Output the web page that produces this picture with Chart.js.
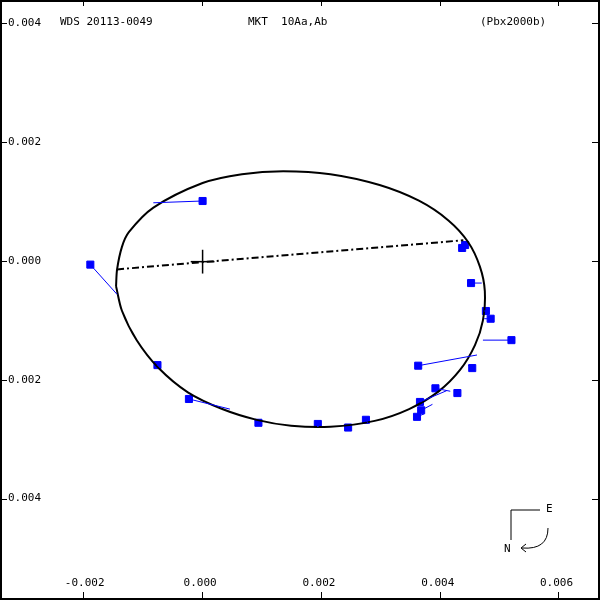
<!DOCTYPE html>
<html><head><meta charset="utf-8">
<script src="https://cdn.jsdelivr.net/npm/chart.js@4/dist/chart.umd.min.js"></script>
<style>
body{margin:0;background:#fff;}
#wrap{position:relative;width:600px;height:600px;}
#frame{position:absolute;left:0;top:0;width:596px;height:596px;border:2px solid #000;pointer-events:none;}
.t{position:absolute;font:11px "DejaVu Sans Mono",monospace;color:#000;white-space:pre;line-height:12px;}
.k{position:absolute;background:#000;}
</style></head><body>
<div id="wrap"><canvas id="c" width="600" height="600"></canvas>
<div id="frame"></div>
<div class="t" style="left:60px;top:16px">WDS 20113-0049</div>
<div class="t" style="left:248px;top:16px">MKT  10Aa,Ab</div>
<div class="t" style="left:480px;top:16px">(Pbx2000b)</div>
<div class="t" style="left:546px;top:503px">E</div>
<div class="t" style="left:504px;top:543px">N</div>
<svg style="position:absolute;left:0;top:0" width="600" height="600">
<path d="M540 510 H511 V540" fill="none" stroke="#000" stroke-width="1"/>
<path d="M548 528 Q548 550 522 548" fill="none" stroke="#000" stroke-width="1"/>
<path d="M526 544 L521 548 L526 552" fill="none" stroke="#000" stroke-width="1"/>
</svg>
</div>
<script>
const orbitX=[-0.001457,-0.001440,-0.001358,-0.001242,-0.000828,0,0.000662,0.001358,0.002152,0.002980,0.003642,0.004139,0.004470,0.004669,0.004752,0.004719,0.004586,0.004338,0.003974,0.003477,0.002897,0.002152,0.001490,0.000911,0.000331,-0.000248,-0.000745,-0.001109,-0.001358,-0.001457];
const orbitY=[-0.000413,-0.000132,0.000248,0.000496,0.000909,0.001322,0.001471,0.001521,0.001471,0.001289,0.001025,0.000694,0.000331,-0.000083,-0.000496,-0.000992,-0.001405,-0.001818,-0.002182,-0.002479,-0.002678,-0.002777,-0.002760,-0.002661,-0.002479,-0.002198,-0.001785,-0.001322,-0.000826,-0.000413];
const obsX=[0,-0.00189,-0.00076,-0.00023,0.00094,0.00194,0.00245,0.00275,0.00363,0.00392,0.00366,0.00368,0.00361,0.00429,0.00454,0.00520,0.00477,0.00485,0.00452,0.00442,0.00437];
const obsY=[0.00102,-0.00005,-0.00174,-0.00231,-0.00271,-0.00273,-0.00279,-0.00266,-0.00175,-0.00213,-0.00236,-0.00250,-0.00261,-0.00221,-0.00179,-0.00132,-0.00083,-0.00096,-0.00036,0.00028,0.00023];
const fitX=[-0.00083,-0.00144,-0.00071,0.00046,0.00099,0.00194,0.00245,0.00278,0.00462,0.00417,0.00411,0.00387,0.00373,0.00426,0.00447,0.00472,0.00474,0.00474,0.00470,0.00435,0.00435];
const fitY=[0.00099,-0.00055,-0.00179,-0.00248,-0.00271,-0.00278,-0.00278,-0.00271,-0.00157,-0.00218,-0.00217,-0.00240,-0.00256,-0.00218,-0.00174,-0.00132,-0.00083,-0.00096,-0.00036,0.00028,0.00023];
const nodeX=[-0.00144,0.00439], nodeY=[-0.00013,0.00036];
const xTicks=[-0.002,0,0.002,0.004,0.006], yTicks=[-0.004,-0.002,0,0.002,0.004];
const pts=(xs,ys)=>xs.map((x,i)=>({x,y:ys[i]}));
const ds=[];
obsX.forEach((x,i)=>ds.push({data:[{x,y:obsY[i]},{x:fitX[i],y:fitY[i]}],showLine:true,borderColor:'#0000ff',borderWidth:1,pointRadius:0}));
ds.push({data:pts(orbitX,orbitY),showLine:true,borderColor:'#000',borderWidth:2,pointRadius:0,tension:0.3});
ds.push({data:pts(nodeX,nodeY),showLine:true,borderColor:'#000',borderWidth:2,borderDash:[7,3,2,3],pointRadius:0});
ds.push({data:[{x:-0.0002,y:0},{x:0.0002,y:0}],showLine:true,borderColor:'#000',borderWidth:1.5,pointRadius:0});
ds.push({data:[{x:0,y:-0.0002},{x:0,y:0.0002}],showLine:true,borderColor:'#000',borderWidth:1.5,pointRadius:0});
ds.push({data:pts(obsX,obsY),showLine:false,pointStyle:'rect',pointRadius:5,backgroundColor:'#0000ff',borderColor:'#0000ff'});
const ch=new Chart(document.getElementById('c'),{type:'scatter',data:{datasets:ds},
options:{responsive:false,animation:false,layout:{padding:0},
plugins:{legend:{display:false},tooltip:{enabled:false}},
scales:{
x:{type:'linear',min:-0.00331,max:0.00659,display:false},
y:{type:'linear',min:-0.00559,max:0.0043,display:false}
}}});
const wrap=document.getElementById('wrap');
function add(cls,st,txt){const d=document.createElement('div');d.className=cls;Object.assign(d.style,st);if(txt)d.textContent=txt;wrap.appendChild(d);}
xTicks.forEach(v=>{const p=ch.scales.x.getPixelForValue(v);
 add('k',{left:(p-0.5)+'px',top:'0px',width:'1px',height:'6px'});
 add('k',{left:(p-0.5)+'px',top:'592px',width:'1px',height:'6px'});
 add('t',{left:(p-19)+'px',top:'577px'},(v<0?'-':'')+Math.abs(v).toFixed(3));});
yTicks.forEach(v=>{const p=ch.scales.y.getPixelForValue(v);
 add('k',{left:'0px',top:(p-0.5)+'px',width:'7px',height:'1px'});
 add('k',{left:'592px',top:(p-0.5)+'px',width:'6px',height:'1px'});
 add('t',{left:'8px',top:(p-7)+'px'},Math.abs(v).toFixed(3));});
</script></body></html>
